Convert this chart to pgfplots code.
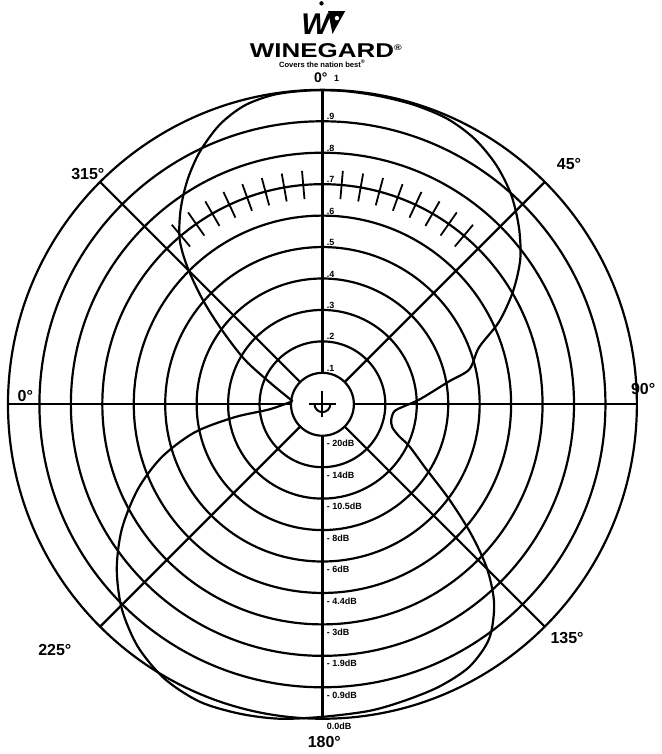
\documentclass[border=0pt]{standalone}
\usepackage{fontspec}
\setmainfont{Liberation Sans}
\usepackage{graphicx}
\usepackage{pgfplots}
\pgfplotsset{compat=1.18}
\pgfplotstableread{
x y
-0.95 0.10
-1.68 0.70
-2.48 1.43
-3.21 2.38
-3.81 3.33
-4.29 4.35
-4.54 5.24
-4.51 6.19
-4.29 7.14
-3.90 8.03
-3.27 8.89
-2.48 9.50
-1.52 9.85
-0.41 9.98
0.70 9.96
1.81 9.80
2.92 9.52
3.97 9.08
4.83 8.45
5.52 7.62
6.00 6.67
6.25 5.62
6.29 4.60
6.06 3.59
5.62 2.63
4.98 1.81
4.67 1.11
4.03 0.73
3.10 0.16
2.60 -0.06
2.29 -0.22
2.19 -0.48
2.22 -0.73
2.44 -1.02
2.76 -1.33
3.30 -2.06
4.03 -3.02
4.73 -4.13
5.24 -5.24
5.46 -6.35
5.30 -7.46
4.67 -8.35
3.71 -8.98
2.60 -9.43
1.49 -9.75
0.00 -9.94
-1.37 -10.00
-2.63 -9.84
-3.90 -9.46
-5.02 -8.73
-5.87 -7.71
-6.38 -6.51
-6.54 -5.24
-6.38 -3.97
-5.87 -2.70
-5.11 -1.68
-4.06 -0.89
-2.79 -0.41
-1.68 -0.16
-0.95 0.10
}\pattern
\begin{document}
\begin{tikzpicture}
\begin{axis}[
  x=15.75pt, y=15.75pt,
  xmin=-10.254, xmax=10.698, ymin=-11.079, ymax=12.857,
  hide axis, clip=false, scale only axis,
]
\path (rel axis cs:0,0) rectangle (rel axis cs:1,1);
% rings
\pgfplotsinvokeforeach{1,...,10}{\draw[line width=1.1pt] (axis cs:0,0) circle[radius=#1];}
% radial lines
\pgfplotsinvokeforeach{0,45,...,315}{\draw[line width=1.1pt] (axis cs:{cos(#1)},{sin(#1)}) -- (axis cs:{10*cos(#1)},{10*sin(#1)});}
% scale ticks on ring 7
\pgfplotsinvokeforeach{5,10,...,40}{
  \draw[line width=0.9pt] (axis cs:{6.55*sin(#1)},{6.55*cos(#1)}) -- (axis cs:{7.45*sin(#1)},{7.45*cos(#1)});
  \draw[line width=0.9pt] (axis cs:{-6.55*sin(#1)},{6.55*cos(#1)}) -- (axis cs:{-7.45*sin(#1)},{7.45*cos(#1)});
}
% centre symbol
\draw[line width=1pt] (axis cs:-0.42,0) -- (axis cs:0.42,0);
\draw[line width=1pt] (axis cs:0,-0.42) -- (axis cs:0,0.42);
\draw[line width=1pt] (axis cs:-0.25,0) arc[start angle=180, end angle=360, radius=0.25];
% pattern
\addplot[black, line width=1.1pt, smooth, tension=0.5] table[x=x,y=y] {\pattern};
% amplitude labels
\pgfplotsinvokeforeach{1,...,9}{\node[anchor=south west, inner sep=0.5pt, font=\fontsize{4.5}{5}\selectfont\bfseries] at (axis cs:0.1,#1) {.#1};}
\node[anchor=west, inner sep=0.5pt, font=\fontsize{4.5}{5}\selectfont\bfseries] at (axis cs:0.1,-1.25) {- 20dB};
\node[anchor=west, inner sep=0.5pt, font=\fontsize{4.5}{5}\selectfont\bfseries] at (axis cs:0.1,-2.25) {- 14dB};
\node[anchor=west, inner sep=0.5pt, font=\fontsize{4.5}{5}\selectfont\bfseries] at (axis cs:0.1,-3.25) {- 10.5dB};
\node[anchor=west, inner sep=0.5pt, font=\fontsize{4.5}{5}\selectfont\bfseries] at (axis cs:0.1,-4.25) {- 8dB};
\node[anchor=west, inner sep=0.5pt, font=\fontsize{4.5}{5}\selectfont\bfseries] at (axis cs:0.1,-5.25) {- 6dB};
\node[anchor=west, inner sep=0.5pt, font=\fontsize{4.5}{5}\selectfont\bfseries] at (axis cs:0.1,-6.25) {- 4.4dB};
\node[anchor=west, inner sep=0.5pt, font=\fontsize{4.5}{5}\selectfont\bfseries] at (axis cs:0.1,-7.25) {- 3dB};
\node[anchor=west, inner sep=0.5pt, font=\fontsize{4.5}{5}\selectfont\bfseries] at (axis cs:0.1,-8.25) {- 1.9dB};
\node[anchor=west, inner sep=0.5pt, font=\fontsize{4.5}{5}\selectfont\bfseries] at (axis cs:0.1,-9.25) {- 0.9dB};
\node[anchor=west, inner sep=0.5pt, font=\fontsize{4.5}{5}\selectfont\bfseries] at (axis cs:0.1,-10.25) {0.0dB};
% angle labels
\node[font=\fontsize{8}{9}\selectfont\bfseries] at (axis cs:-7.46,7.33) {315°};
\node[font=\fontsize{8}{9}\selectfont\bfseries] at (axis cs:7.84,7.65) {45°};
\node[font=\fontsize{8}{9}\selectfont\bfseries] at (axis cs:-9.45,0.27) {0°};
\node[font=\fontsize{8}{9}\selectfont\bfseries] at (axis cs:10.2,0.5) {90°};
\node[font=\fontsize{8}{9}\selectfont\bfseries] at (axis cs:-8.51,-7.81) {225°};
\node[font=\fontsize{8}{9}\selectfont\bfseries] at (axis cs:7.78,-7.43) {135°};
\node[font=\fontsize{8}{9}\selectfont\bfseries] at (axis cs:0.06,-10.73) {180°};
\node[font=\fontsize{7}{8}\selectfont\bfseries] at (axis cs:-0.05,10.4) {0°};
\node[font=\fontsize{4.5}{5}\selectfont\bfseries] at (axis cs:0.45,10.35) {1};
% logo
\node[font=\fontsize{15}{15}\selectfont\bfseries\itshape, inner sep=0pt] at (axis cs:-0.22,12.1) {W};
\fill (axis cs:0.18,12.5) -- (axis cs:0.72,12.5) -- (axis cs:0.32,11.78) -- cycle;
\fill[white] (axis cs:0.46,12.28) circle[radius=0.07];
\fill (axis cs:-0.03,12.75) circle[radius=0.07];
\node[font=\fontsize{10}{10}\selectfont\bfseries, xscale=1.3, inner sep=0pt] at (axis cs:0.13,11.25) {WINEGARD\textsuperscript{\fontsize{4}{4}\selectfont ®}};
\node[font=\fontsize{3.8}{4}\selectfont\bfseries, inner sep=0pt] at (axis cs:0,10.83) {Covers the nation best\textsuperscript{®}};
\end{axis}
\end{tikzpicture}
\end{document}
